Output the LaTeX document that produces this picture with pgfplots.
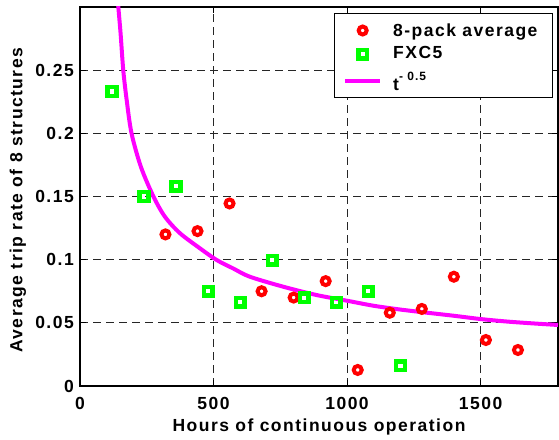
\documentclass[border=0pt]{standalone}
\usepackage{pgfplots}
\pgfplotsset{compat=1.18}
\usepackage{fontspec}
\setmainfont{Liberation Sans}[LetterSpace=8.5]
\newcommand\f{\fontsize{17.5}{20}\selectfont\bfseries}
\definecolor{mag}{RGB}{255,0,255}
\definecolor{grn}{RGB}{0,255,0}
\definecolor{rd}{RGB}{255,0,0}
\pgfplotsset{
 legred/.style={legend image code/.code={\draw[mark repeat=2,mark phase=2,##1] plot coordinates {(0pt,6pt) (17.5pt,6pt) (35pt,6pt)};}},
 leggrn/.style={legend image code/.code={\draw[mark repeat=2,mark phase=2,##1] plot coordinates {(0pt,4pt) (17.5pt,4pt) (35pt,4pt)};}},
 legmag/.style={legend image code/.code={\draw[##1] (0pt,9pt) -- (35pt,9pt);}},
}
\begin{document}
\begin{tikzpicture}
\begin{axis}[
 name=ax,
 scale only axis, width=478pt, height=379pt,
 xmin=0, xmax=1790, ymin=0, ymax=0.3,
 xtick={0,500,1000,1500}, xticklabels={0,500,1000,1500},
 ytick={0,0.05,0.1,0.15,0.2,0.25}, yticklabels={0,0.05,0.1,0.15,0.2,0.25},
 tick align=inside, major tick length=6pt,
 axis line style={line width=1.2pt, black},
 tick style={line width=1pt, black},
 grid=major,
 major grid style={black!85, line width=0.9pt, dash pattern=on 8pt off 5pt},
 /pgf/number format/assume math mode=true,
 ticklabel style={font=\f},
 xticklabel style={anchor=base, yshift=-23pt},
 yticklabel style={anchor=east, inner sep=0pt, xshift=-6pt},
 xlabel={Hours of continuous operation},
 xlabel style={at={(rel axis cs:0.5,0)}, anchor=base, yshift=-45.5pt, font=\f},
 ylabel={Average trip rate of 8 structures},
 ylabel style={at={(rel axis cs:-0.1297,0.49)}, anchor=center, font=\f},
 legend style={at={(rel axis cs:1,1)}, anchor=north east, xshift=-5pt, yshift=-6pt,
   draw=black, line width=1pt, fill=white, inner xsep=9pt, inner ysep=3.5pt,
   row sep=6pt, column sep=11pt, font=\f,
   nodes={inner sep=0pt, text depth=3.5pt},
   cells={anchor=base west}},
]
\addplot[mag, line width=4pt, smooth, forget plot] coordinates {
(141,0.306) (143.5,0.300) (152,0.279) (162,0.25) (175,0.226) (193,0.2) (228,0.1735)
(275,0.15) (318,0.134) (374,0.121) (449,0.109) (512,0.0997) (574,0.093) (636,0.0865)
(761,0.0786) (886,0.072) (1000,0.0675) (1100,0.0635) (1200,0.0605) (1300,0.058)
(1400,0.0556) (1500,0.0530) (1600,0.051) (1700,0.0495) (1790,0.0483)};
\addplot[only marks, mark=o, mark size=4pt, draw=rd, line width=4pt, legred]
 coordinates {(320,0.120) (440,0.1226) (560,0.1445) (680,0.075) (800,0.070) (920,0.083)
 (1040,0.0127) (1160,0.058) (1280,0.061) (1400,0.0865) (1520,0.0364) (1640,0.0285)};
\addlegendentry{\rule{0pt}{19.5pt}8-pack average\rule{6pt}{0pt}}
\addplot[only marks, mark=square, mark size=4.35pt, draw=grn, line width=4.6pt, line join=miter, leggrn]
 coordinates {(120,0.2331) (240,0.150) (360,0.158) (480,0.0749) (600,0.0662) (720,0.0994)
 (840,0.0699) (960,0.0662) (1080,0.0749) (1200,0.016)};
\addlegendentry{FXC5}
\addlegendimage{mag, line width=4pt, legmag}
\addlegendentry{\rule{0pt}{22.5pt}t\raisebox{10pt}{\fontsize{12}{13}\selectfont - 0.5}}
\end{axis}
\pgfresetboundingbox
\path ([xshift=-80pt,yshift=-53pt]ax.south west) rectangle ([xshift=1pt,yshift=7pt]ax.north east);
\end{tikzpicture}
\end{document}
